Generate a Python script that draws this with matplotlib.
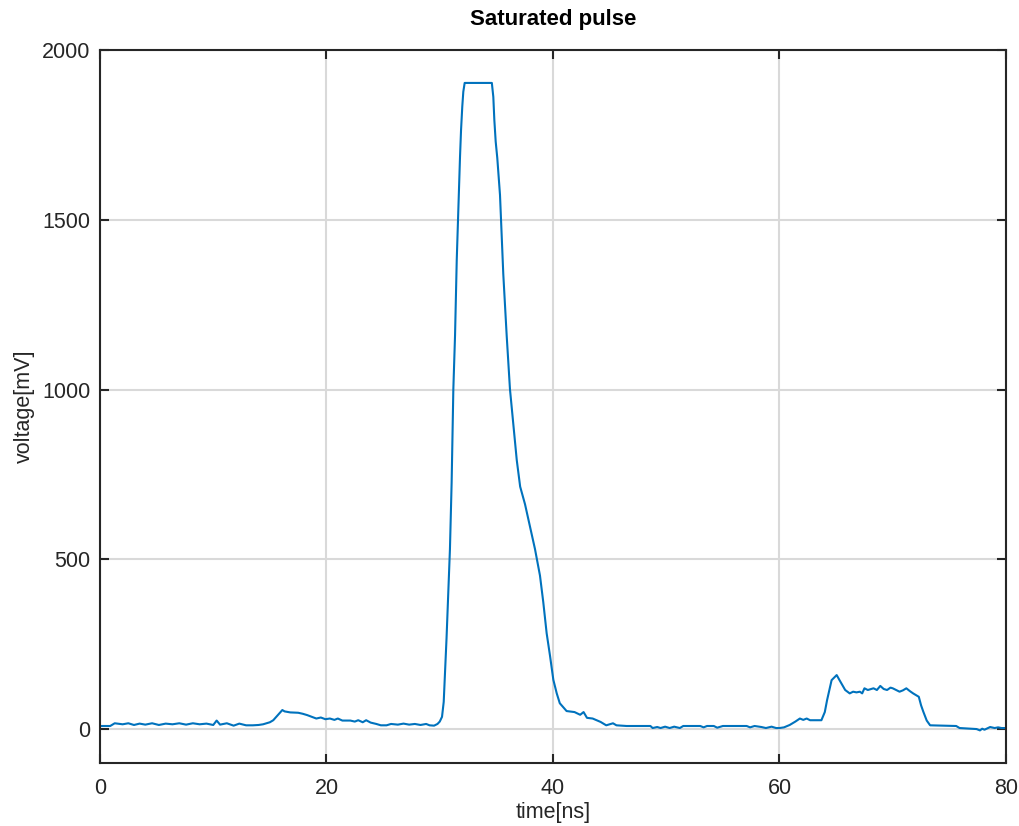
import numpy as np
import matplotlib
matplotlib.use("Agg")
import matplotlib.pyplot as plt

# 读取自示波器截图的采样点 (时间 ns, 电压 mV)
time_ns = [
    0.0, 0.9, 1.3, 2.0, 2.5, 3.0, 3.5, 4.0, 4.6, 5.2, 5.8, 6.4, 7.0, 7.6,
    8.2, 8.8, 9.4, 10.0, 10.3, 10.6, 11.2, 11.8, 12.3, 12.9, 13.5, 14.0, 14.4,
    15.0, 15.3, 15.7, 16.1, 16.3, 16.8, 17.5, 17.9, 18.3, 18.7, 19.1, 19.5,
    19.9, 20.3, 20.7, 21.0, 21.4, 21.8, 22.1, 22.5, 22.8, 23.2, 23.5, 23.9,
    24.4, 24.8, 25.3, 25.7, 26.3, 26.8, 27.3, 27.8, 28.3, 28.8, 29.1, 29.5,
    29.8, 30.0, 30.2, 30.35, 30.6, 30.9, 31.05, 31.2, 31.35, 31.5, 31.64,
    31.7, 31.79, 31.88, 31.99, 32.08, 32.2, 34.6, 34.73, 34.82, 34.94,
    35.08, 35.2, 35.32, 35.47, 35.61, 35.91, 36.2, 36.5, 36.8, 37.1, 37.53,
    37.97, 38.41, 38.85, 39.14, 39.44, 39.74, 40.03, 40.33, 40.6, 41.2, 41.9,
    42.4, 42.7, 43.0, 43.5, 44.2, 44.7, 45.3, 45.6, 46.5, 48.6, 48.8, 49.2,
    49.5, 49.9, 50.3, 50.7, 51.2, 51.5, 53.0, 53.3, 53.6, 54.2, 54.5, 55.0,
    57.1, 57.4, 57.8, 58.4, 58.8, 59.3, 59.7, 60.0, 60.4, 60.9, 61.4, 61.8,
    62.1, 62.4, 62.7, 63.7, 64.0, 64.2, 64.6, 65.05, 65.3, 65.8, 66.2, 66.5,
    66.8, 67.1, 67.3, 67.5, 67.8, 68.3, 68.6, 68.9, 69.2, 69.5, 69.8, 70.0,
    70.6, 70.9, 71.2, 71.5, 71.8, 72.3, 72.5, 72.7, 73.0, 73.3, 75.6, 75.9,
    77.4, 77.7, 77.9, 78.1, 78.6, 79.0, 79.3, 79.6, 80.0,
]
voltage_mv = [
    9, 9, 17, 14, 17, 12, 16, 13, 17, 12, 16, 14, 17, 13,
    17, 14, 16, 12, 25, 13, 17, 10, 16, 11, 11, 12, 14,
    20, 26, 41, 56, 52, 49, 48, 45, 41, 36, 31, 34,
    29, 31, 27, 31, 25, 25, 25, 22, 26, 20, 26, 19,
    15, 11, 11, 15, 13, 16, 13, 15, 12, 15, 11, 10,
    15, 22, 36, 80, 268, 530, 727, 1001, 1159, 1381, 1529,
    1593, 1686, 1764, 1834, 1877, 1903, 1903, 1862, 1794, 1730,
    1682, 1627, 1573, 1450, 1340, 1159, 1001, 898, 792, 714, 662,
    596, 530, 452, 374, 282, 215, 145, 105, 76, 53, 50,
    42, 50, 33, 31, 21, 11, 17, 11, 9, 9, 3, 6,
    3, 7, 3, 7, 3, 9, 9, 5, 9, 9, 4, 9,
    9, 5, 9, 6, 3, 7, 3, 3, 5, 12, 22, 31,
    27, 31, 26, 26, 50, 85, 144, 159, 144, 115, 105, 110,
    108, 110, 105, 120, 115, 120, 115, 127, 118, 115, 122, 120,
    110, 114, 120, 112, 105, 95, 70, 51, 25, 11, 9, 3,
    0, -4, 1, -2, 6, 3, 5, 3, 3,
]

x_ticks = [0, 20, 40, 60, 80]
y_ticks = [0, 500, 1000, 1500, 2000]

line_color = "#0072BD"
axis_color = "#262626"

plt.rcParams['font.family'] = ['Liberation Sans', 'DejaVu Sans']

fig = plt.figure(figsize=(10.2, 8.26), dpi=100)
ax = fig.add_axes([100 / 1020, 1 - 763 / 826, 906 / 1020, 713 / 826])

ax.plot(time_ns, voltage_mv, color=line_color, linewidth=1.5)

ax.set_xlim(0, 80)
ax.set_ylim(-100, 2000)
ax.set_xticks(x_ticks)
ax.set_yticks(y_ticks)

# 网格和坐标框 (Octave 风格)
ax.grid(True, color="#d9d9d9", linewidth=1.5)
ax.set_axisbelow(True)
for side in ax.spines.values():
    side.set_color(axis_color)
    side.set_linewidth(1.5)
ax.tick_params(direction="in", length=6.5, width=1.5, color=axis_color,
               labelsize=15.5, labelcolor=axis_color, top=True, right=True)
ax.tick_params(axis="x", pad=11)
ax.tick_params(axis="y", pad=7)

ax.set_xlabel("time[ns]", fontsize=15.5, color=axis_color, labelpad=2)
ax.set_ylabel("voltage[mV]", fontsize=15.5, color=axis_color, labelpad=5)
ax.set_title("Saturated pulse", fontsize=16, fontweight="bold", pad=18)

fig.savefig("out.png", dpi=100)
